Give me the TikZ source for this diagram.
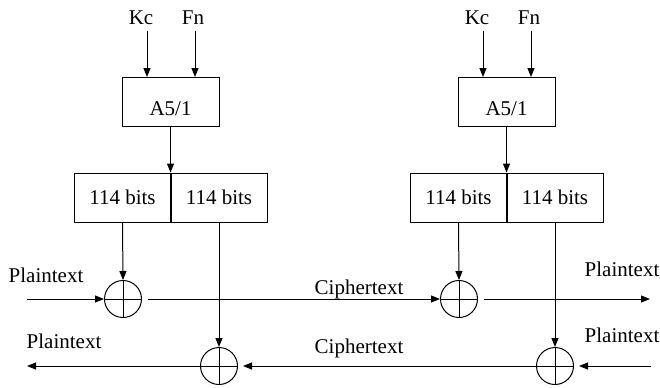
\documentclass[tikz,border=0pt]{standalone}
\usepackage{fontspec}
\setmainfont{Liberation Serif}
\usetikzlibrary{arrows.meta}
\begin{document}
\begin{tikzpicture}[x=0.5pt,y=-0.5pt, line width=0.5pt,
  txt/.style={font=\fontsize{10.5}{12}\selectfont},
  box/.style={draw, txt, minimum width=48.5pt, minimum height=24.5pt, inner sep=0pt},
  algbox/.style={box, text height=13pt, text depth=0pt},
  xorc/.style={draw, circle, minimum size=18.5pt, inner sep=0pt},
  lbl/.style={txt, inner sep=0pt, anchor=base},
  arr/.style={-{Triangle[length=4.5pt,width=3.5pt]}}]
\useasboundingbox (0,0) rectangle (660,387);
\foreach \ox/\s in {0/L,336/R} {
  \node[lbl] (kc\s) at (141+\ox,24) {Kc};
  \node[lbl] (fn\s) at (193+\ox,24) {Fn};
  \node[algbox] (a\s) at (170.5+\ox,102) {A5/1};
  \node[box] (b1\s) at (122.5+\ox,197.5) {114 bits};
  \node[box] (b2\s) at (219+\ox,197.5) {114 bits};
  \node[xorc] (x1\s) at (123+\ox,299) {};
  \node[xorc] (x2\s) at (219+\ox,366) {};
  \draw (x1\s.north) -- (x1\s.south) (x1\s.west) -- (x1\s.east);
  \draw (x2\s.north) -- (x2\s.south) (x2\s.west) -- (x2\s.east);
  \draw[arr] ([xshift=3pt,yshift=-3pt]kc\s.south) -- ([xshift=3pt]kc\s.south |- a\s.north);
  \draw[arr] ([xshift=1pt,yshift=-3pt]fn\s.south) -- ([xshift=1pt]fn\s.south |- a\s.north);
  \draw[arr] (a\s.south) -- (a\s.south |- b1\s.north);
  \draw[arr] (b1\s.south) -- (x1\s.north);
  \draw[arr] (b2\s.south) -- (x2\s.north);
}
\coordinate (inT) at (27,299);
\coordinate (outT) at (650,299);
\coordinate (inB) at (651,366);
\coordinate (outB) at (27,366);
\draw[arr] (inT) -- (x1L.west);
\draw[arr] ([xshift=3pt]x1L.east) -- (x1R.west);
\draw[arr] ([xshift=3pt]x1R.east) -- (outT);
\draw[arr, shorten >=2.5pt] (inB) -- (x2R.east);
\draw[arr, shorten >=2.5pt] (x2R.west) -- (x2L.east);
\draw[arr] (x2L.west) -- (outB);
\node[lbl] (ptl) at (46,282) {Plaintext};
\node[lbl] (pbl) at (64,348) {Plaintext};
\node[lbl] (ct) at (359,294) {Ciphertext};
\node[lbl] (cb) at (359,353) {Ciphertext};
\node[lbl] (ptr) at (622,276) {Plaintext};
\node[lbl] (pbr) at (622,342) {Plaintext};
\end{tikzpicture}
\end{document}
